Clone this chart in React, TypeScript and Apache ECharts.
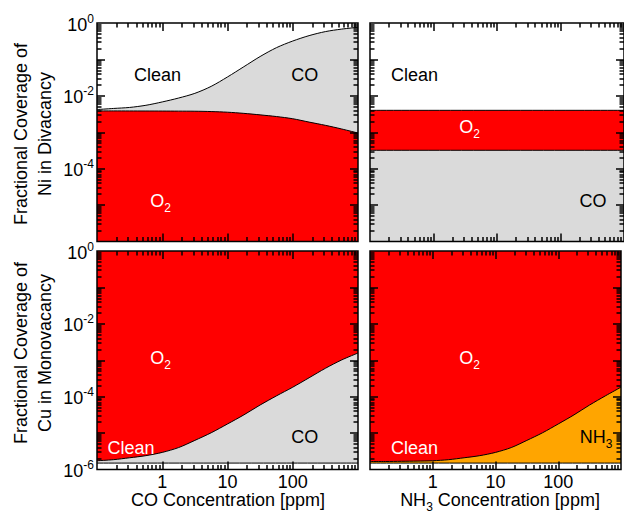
import React, { useEffect, useRef } from 'react';
import * as echarts from 'echarts';

// ---------------- data ----------------
// concentrations (ppm), quarter-decade steps
const concentrations = [0.1, 0.178, 0.316, 0.562, 1, 1.78, 3.16, 5.62, 10, 17.8, 31.6, 56.2, 100, 178, 316, 562, 1000];

// Ni divacancy, CO exposure: upper boundary (O2 + CO) and O2 boundary
const niCOUpper = [4.2e-3, 4.5e-3, 4.8e-3, 5.5e-3, 6.8e-3, 8.7e-3, 1.17e-2, 1.82e-2, 3.3e-2, 6.3e-2, 0.12, 0.21, 0.32, 0.45, 0.58, 0.68, 0.76];
const niCOO2 = [3.85e-3, 3.85e-3, 3.84e-3, 3.83e-3, 3.82e-3, 3.8e-3, 3.78e-3, 3.7e-3, 3.55e-3, 3.3e-3, 3.0e-3, 2.7e-3, 2.35e-3, 1.9e-3, 1.55e-3, 1.23e-3, 9.5e-4];

// Ni divacancy, NH3 exposure: flat levels
const niNH3X = [0.1, 1000];
const niNH3O2 = [4.0e-3, 4.0e-3];
const niNH3CO = [3.2e-4, 3.2e-4];

// Cu monovacancy: CO / NH3 boundaries
const cuCO = [1.74e-6, 1.86e-6, 2.1e-6, 2.4e-6, 2.95e-6, 4.0e-6, 6.3e-6, 1.02e-5, 1.78e-5, 3.16e-5, 5.9e-5, 1.05e-4, 1.82e-4, 3.3e-4, 6.0e-4, 1.02e-3, 1.58e-3];
const cuNH3 = [1.66e-6, 1.66e-6, 1.68e-6, 1.7e-6, 1.74e-6, 1.86e-6, 2.1e-6, 2.4e-6, 2.95e-6, 4.0e-6, 6.3e-6, 1.02e-5, 1.78e-5, 3.16e-5, 5.9e-5, 1.05e-4, 1.82e-4];
const cuCleanX = [0.1, 1000];
const cuClean = [1.5e-6, 1.5e-6];

const xTickLabels = ['1', '10', '100'];
const yTickExponentsTop = [0, -2, -4];
const yTickExponentsBottom = [0, -2, -4, -6];

// ---------------- style ----------------
const FONT = '"Liberation Sans", Arial, Helvetica, sans-serif';
const RED = '#ff0000';
const GRAY = '#dadada';
const ORANGE = '#ffa500';
const X_MIN = 0.1, X_MAX = 1000, Y_MIN = 1e-6, Y_MAX = 1;

const grids = [
  { left: 97, top: 23, width: 261, height: 218.5, bg: '#ffffff' },
  { left: 370, top: 23, width: 259, height: 218.5, bg: '#ffffff' },
  { left: 97, top: 251, width: 261, height: 218.5, bg: RED },
  { left: 370, top: 251, width: 259, height: 218.5, bg: RED },
];

// log tick positions (decades and 2..9 multiples) strictly inside an extent
const logTicks = (lo: number, hi: number, major: boolean) => {
  const out: number[] = [];
  for (let d = Math.round(Math.log10(lo)); d <= Math.round(Math.log10(hi)); d++) {
    for (let m = 1; m <= 9; m++) {
      if ((m === 1) !== major) continue;
      const v = m * Math.pow(10, d);
      if (v > lo * 1.0001 && v < hi * 0.9999) out.push(v);
    }
  }
  return out;
};
const xMajor = logTicks(X_MIN, X_MAX, true);
const xMinor = logTicks(X_MIN, X_MAX, false);
const yMajor = logTicks(Y_MIN, Y_MAX, true);
const yMinor = logTicks(Y_MIN, Y_MAX, false);

const pairs = (xs: number[], ys: number[]) => xs.map((x, i) => [x, ys[i]]);

const AX = 4; // axes per grid and direction
const areaSeries = (gi: number, xs: number[], ys: number[], color: string) => ({
  type: 'line',
  xAxisIndex: gi * AX,
  yAxisIndex: gi * AX,
  data: pairs(xs, ys),
  symbol: 'none',
  showSymbol: false,
  smooth: 0.3,
  silent: true,
  lineStyle: { color: '#000', width: 1 },
  areaStyle: { color, opacity: 1, origin: 'start' },
  z: 2,
});

const frameSeries = (gi: number) => ({
  type: 'custom',
  xAxisIndex: gi * AX,
  yAxisIndex: gi * AX,
  silent: true,
  clip: false,
  z: 12,
  data: [[X_MIN, Y_MIN]],
  renderItem: (_p: any, api: any) => {
    const tl = api.coord([X_MIN, Y_MAX]);
    const br = api.coord([X_MAX, Y_MIN]);
    return {
      type: 'rect',
      shape: { x: tl[0], y: tl[1], width: br[0] - tl[0], height: br[1] - tl[1] },
      style: { fill: 'none', stroke: '#000', lineWidth: 1.5 },
    };
  },
});

const richBase = (fill: string) => ({
  b: { fontSize: 18, fontFamily: FONT, fill, color: fill, verticalAlign: 'top' },
  s: { fontSize: 12, fontFamily: FONT, fill, color: fill, verticalAlign: 'bottom', padding: [10, 0, 0, 0] },
});

const label = (x: number, y: number, text: string, fill: string) => ({
  type: 'text',
  x,
  y,
  silent: true,
  z: 20,
  style: {
    text,
    rich: richBase(fill),
    fill,
    fontSize: 18,
    fontFamily: FONT,
    align: 'center',
    verticalAlign: 'middle',
  },
});

const yTitle = (y: number, text: string) => ({
  type: 'text',
  x: 32.5,
  y,
  rotation: Math.PI / 2,
  silent: true,
  style: {
    text,
    fontSize: 18,
    fontFamily: FONT,
    lineHeight: 24,
    fill: '#000',
    align: 'center',
    verticalAlign: 'middle',
  },
});

const tickStyle = { color: '#000', width: 1.5 };

export default function App() {
  const ref = useRef<HTMLDivElement>(null);
  useEffect(() => {
    document.body.style.margin = '0';
    if (!ref.current) return;
    const chart = echarts.init(ref.current, undefined, { renderer: 'svg' });

    const xAxis: any[] = [];
    const yAxis: any[] = [];
    grids.forEach((_g, i) => {
      const exps = i < 2 ? yTickExponentsTop : yTickExponentsBottom;
      const variants = [
        { pos: 0, major: true },
        { pos: 0, major: false },
        { pos: 1, major: true },
        { pos: 1, major: false },
      ];
      variants.forEach((vr, k) => {
        const main = k === 0;
        xAxis.push({
          type: 'log',
          logBase: 10,
          gridIndex: i,
          min: X_MIN,
          max: X_MAX,
          splitNumber: 4,
          z: 10,
          position: vr.pos === 0 ? 'bottom' : 'top',
          axisLine: { show: false, onZero: false },
          splitLine: { show: false },
          axisTick: {
            show: true,
            inside: true,
            length: vr.major ? 8 : 4.5,
            lineStyle: tickStyle,
            customValues: vr.major ? xMajor : xMinor,
          },
          axisLabel: {
            show: main && i >= 2,
            margin: 3,
            fontSize: 18,
            fontFamily: FONT,
            color: '#000',
            hideOverlap: false,
            formatter: (v: number) => {
              const e = Math.round(Math.log10(v));
              const s = String(Math.pow(10, e));
              return xTickLabels.includes(s) ? s : '';
            },
          },
        });
        yAxis.push({
          type: 'log',
          logBase: 10,
          gridIndex: i,
          min: Y_MIN,
          max: Y_MAX,
          splitNumber: 6,
          z: 10,
          position: vr.pos === 0 ? 'left' : 'right',
          axisLine: { show: false, onZero: false },
          splitLine: { show: false },
          axisTick: {
            show: true,
            inside: true,
            length: vr.major ? 8 : 4.5,
            lineStyle: tickStyle,
            customValues: vr.major ? yMajor : yMinor,
          },
          axisLabel: {
            show: main && i % 2 === 0,
            margin: 3,
            fontSize: 18,
            fontFamily: FONT,
            color: '#000',
            hideOverlap: false,
            formatter: (v: number) => {
              const e = Math.round(Math.log10(v));
              return exps.includes(e) ? `{b|10}{sup|${e}}` : '';
            },
            rich: {
              b: { fontSize: 18, fontFamily: FONT, color: '#000', verticalAlign: 'bottom' },
              sup: { fontSize: 12, fontFamily: FONT, color: '#000', verticalAlign: 'bottom', padding: [0, 0, 9, 0] },
            },
          },
        });
      });
    });

    const option: any = {
      animation: false,
      backgroundColor: '#ffffff',
      grid: grids.map((g) => ({
        left: g.left,
        top: g.top,
        width: g.width,
        height: g.height,
        show: true,
        backgroundColor: g.bg,
        borderWidth: 0,
        borderColor: 'transparent',
      })),
      xAxis,
      yAxis,
      series: [
        areaSeries(0, concentrations, niCOUpper, GRAY),
        areaSeries(0, concentrations, niCOO2, RED),
        frameSeries(0),
        areaSeries(1, niNH3X, niNH3O2, RED),
        areaSeries(1, niNH3X, niNH3CO, GRAY),
        frameSeries(1),
        areaSeries(2, concentrations, cuCO, GRAY),
        areaSeries(2, cuCleanX, cuClean, '#ffffff'),
        frameSeries(2),
        areaSeries(3, concentrations, cuNH3, ORANGE),
        areaSeries(3, cuCleanX, cuClean, '#ffffff'),
        frameSeries(3),
      ],
      graphic: [
        label(157.5, 75, '{b|Clean}', '#000'),
        label(304.7, 75, '{b|CO}', '#000'),
        label(160.5, 203, '{b|O}{s|2}', '#fff'),
        label(414.5, 75, '{b|Clean}', '#000'),
        label(469.5, 129, '{b|O}{s|2}', '#fff'),
        label(593, 200.5, '{b|CO}', '#000'),
        label(160.5, 360, '{b|O}{s|2}', '#fff'),
        label(131, 448, '{b|Clean}', '#fff'),
        label(304.7, 437, '{b|CO}', '#000'),
        label(469.5, 360, '{b|O}{s|2}', '#fff'),
        label(414.5, 448, '{b|Clean}', '#fff'),
        label(596, 439, '{b|NH}{s|3}', '#000'),
        label(228, 500, '{b|CO Concentration [ppm]}', '#000'),
        label(500, 502, '{b|NH}{s|3}{b| Concentration [ppm]}', '#000'),
        yTitle(134, 'Fractional Coverage of\nNi in Divacancy'),
        yTitle(353, 'Fractional Coverage of\nCu in Monovacancy'),
      ],
    };
    chart.setOption(option);
    return () => chart.dispose();
  }, []);
  return <div ref={ref} style={{ width: 624, height: 511 }} />;
}
